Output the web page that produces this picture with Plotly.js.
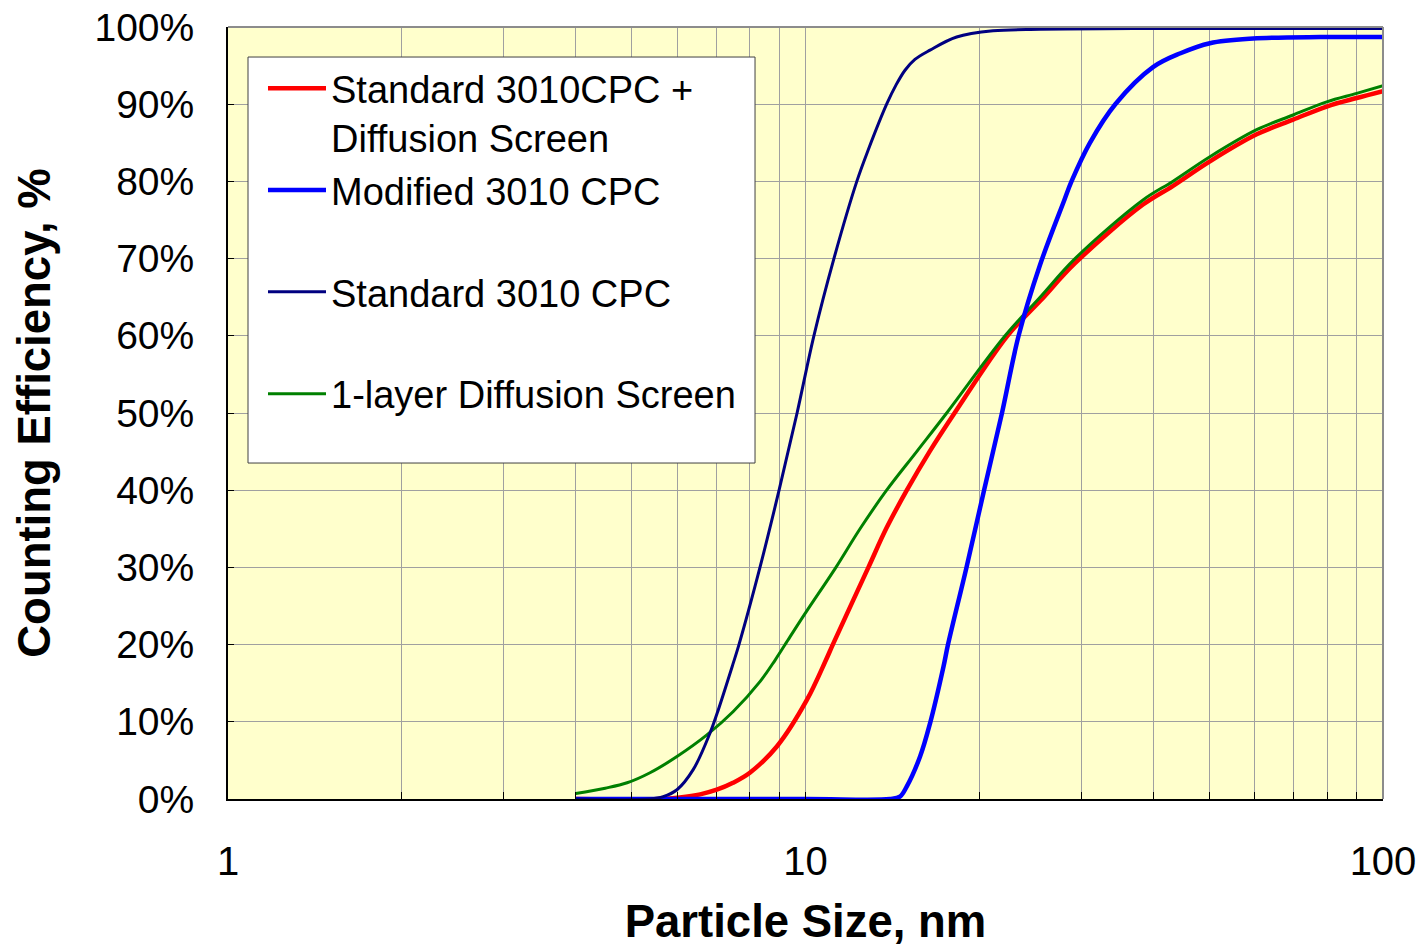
<!DOCTYPE html>
<html>
<head>
<meta charset="utf-8">
<script src="https://cdn.plot.ly/plotly-3.0.1.min.js"></script>
<style>
  html, body { margin: 0; padding: 0; background: #ffffff; }
  #chart { width: 1426px; height: 947px; }
</style>
</head>
<body>
<div id="chart"></div>
<script>
// Particle size (nm) and counting efficiency (%)
const redName = "Standard 3010CPC +<br>Diffusion Screen";
const redX = [4.0, 5.6, 6.06, 6.57, 7.02, 7.49, 8.01, 8.92, 10.05, 10.85, 11.15, 12.85, 13.79, 14.98, 16.4, 18.12, 22.37, 25.48, 29.29, 38.41, 43.24, 50.15, 60.43, 69.89, 79.9, 90.04, 100];
const redY = [0, 0, 0.2, 0.6, 1.2, 2.1, 3.4, 6.8, 12.8, 18, 20, 30, 35, 40, 45, 50, 60, 64.5, 69.4, 77.0, 79.4, 82.6, 86.1, 88.0, 89.7, 90.8, 91.7];

const blueName = "Modified 3010 CPC<br>&nbsp;";
const blueX = [4.0, 10, 14.0, 14.57, 14.97, 15.79, 16.43, 17.33, 17.65, 19.0, 20.38, 21.89, 23.39, 25.48, 28.07, 28.88, 31.08, 34.39, 39.97, 44.6, 50.15, 59.56, 77.8, 100];
const blueY = [0, 0, 0, 0.3, 1.6, 5.5, 9.8, 17.1, 20, 30, 40, 50, 60, 69.2, 77.6, 80, 85, 90, 94.8, 96.6, 97.9, 98.5, 98.7, 98.7];

const navyName = "Standard 3010 CPC<br>&nbsp;";
const navyX = [4.0, 5.38, 5.67, 5.99, 6.39, 6.83, 7.03, 7.49, 7.67, 8.34, 9.0, 9.67, 10.34, 11.2, 12.27, 12.83, 13.82, 14.35, 14.87, 15.47, 16.43, 18.27, 21.12, 25.48, 39.5, 100];
const navyY = [0, 0, 0.3, 1.2, 3.8, 8.5, 11.1, 17.5, 20, 30, 40, 50, 60, 70, 80, 84, 90, 92.5, 94.4, 95.8, 97, 98.7, 99.5, 99.7, 99.8, 99.8];

const greenName = "1-layer Diffusion Screen<br>&nbsp;";
const greenX = [4.0, 4.5, 4.91, 5.38, 5.99, 6.75, 7.49, 8.34, 8.86, 9.4, 10.02, 11.29, 12.43, 13.82, 15.58, 17.56, 22.16, 25.48, 29.29, 38.41, 43.24, 50.15, 60.43, 69.89, 79.9, 90.04, 100];
const greenY = [0.7, 1.4, 2.1, 3.4, 5.5, 8.3, 11.3, 15.2, 18.0, 21.0, 24.2, 30, 35, 40, 45, 50, 60, 65, 70, 77.6, 80, 83.2, 86.7, 88.6, 90.3, 91.4, 92.4];

const xMajorTicks = [1, 10, 100];
const xMajorLabels = ["1", "10", "100"];
const xMinorTicks = [2, 3, 4, 5, 6, 7, 8, 9, 20, 30, 40, 50, 60, 70, 80, 90];

const FONT = "Liberation Sans, Arial, Helvetica, sans-serif";

function trace(name, x, y, color, width, rank) {
  return {
    type: "scatter", mode: "lines", name: name, x: x, y: y,
    legendgroup: "g" + rank, legendrank: rank,
    line: { color: color, width: width, shape: "spline", smoothing: 1.0 },
    hoverinfo: "x+y"
  };
}

const data = [
  trace(redName, redX, redY, "#FF0000", 4.5, 1),
  trace(greenName, greenX, greenY, "#008000", 3, 4),
  trace(blueName, blueX, blueY, "#0000FF", 4.5, 2),
  trace(navyName, navyX, navyY, "#000080", 3, 3)
];

const layout = {
  width: 1426, height: 947,
  margin: { l: 228, r: 43, t: 27, b: 148 },
  paper_bgcolor: "#ffffff",
  plot_bgcolor: "#FFFFCC",
  font: { family: FONT, color: "#000000" },
  showlegend: true,
  legend: {
    x: 0.0303, y: 0.9611, xanchor: "left", yanchor: "top",
    bgcolor: "rgba(0,0,0,0)", borderwidth: 0,
    font: { family: FONT, size: 38, color: "#000000" },
    traceorder: "grouped", tracegroupgap: 0, valign: "top",
    itemwidth: 58
  },
  xaxis: {
    type: "log", range: [0, 2],
    tickmode: "array", tickvals: xMajorTicks, ticktext: xMajorLabels,
    ticks: "inside", ticklen: 7, tickcolor: "#000000", tickwidth: 1,
    showgrid: true, gridcolor: "#A0A0A0", gridwidth: 1,
    minor: { tickmode: "array", tickvals: xMinorTicks, ticks: "inside", ticklen: 7,
             tickcolor: "#000000", showgrid: true, gridcolor: "#A0A0A0", gridwidth: 1 },
    showline: true, linecolor: "#000000", linewidth: 2,
    zeroline: false,
    tickfont: { family: FONT, size: 40, color: "#000000" },
    ticklabelstandoff: 26,
    title: { text: "<b>Particle Size, nm</b>", font: { family: FONT, size: 45.5, color: "#000000" }, standoff: 27 }
  },
  yaxis: {
    range: [0, 100], tickmode: "linear", tick0: 0, dtick: 10, ticksuffix: "%",
    ticks: "inside", ticklen: 6, tickcolor: "#000000", tickwidth: 1,
    showgrid: true, gridcolor: "#A0A0A0", gridwidth: 1,
    showline: true, linecolor: "#000000", linewidth: 2,
    zeroline: false,
    tickfont: { family: FONT, size: 39, color: "#000000" },
    ticklabelstandoff: 24,
    title: { text: "<b>Counting Efficiency, %</b>", font: { family: FONT, size: 45.5, color: "#000000" }, standoff: 30 }
  },
  shapes: [
    { type: "rect", xref: "paper", yref: "paper", x0: 0.01732, x1: 0.4563, y0: 0.4352, y1: 0.9611,
      fillcolor: "#ffffff", line: { color: "#404040", width: 1 }, layer: "above" },
    { type: "line", xref: "paper", yref: "paper", x0: 0, x1: 1, y0: 1, y1: 1, line: { color: "#8C8C8C", width: 2 }, layer: "above" },
    { type: "line", xref: "paper", yref: "paper", x0: 1, x1: 1, y0: 0, y1: 1, line: { color: "#8C8C8C", width: 2 }, layer: "above" }
  ]
};

Plotly.newPlot("chart", data, layout, { staticPlot: true, displayModeBar: false });
</script>
</body>
</html>
